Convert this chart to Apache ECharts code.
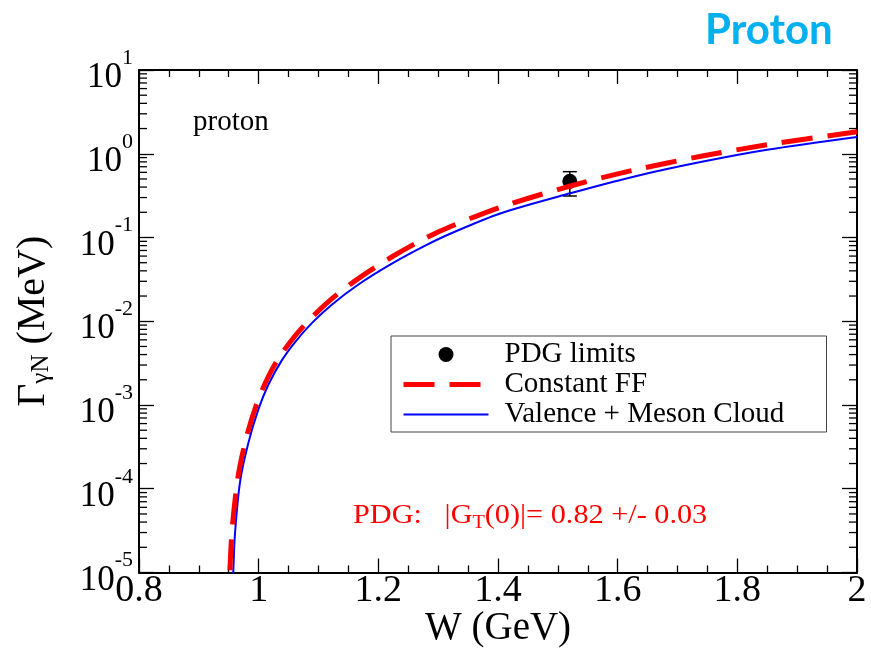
<!DOCTYPE html>
<html><head><meta charset="utf-8">
<script src="https://cdn.jsdelivr.net/npm/echarts@6/dist/echarts.min.js"></script>
<style>html,body{margin:0;padding:0;background:#fff}#c{width:871px;height:651px}</style>
</head><body><div id="c"></div>
<script>
// Constant FF (red dashed)
const ffW   = [0.950, 0.952, 0.956, 0.966, 0.980, 0.997, 1.014, 1.033, 1.061, 1.089, 1.122, 1.167, 1.223, 1.278, 1.320, 1.404, 1.521, 1.627, 1.739, 1.850, 2.000];
const ffVal = [3e-6, 1.07e-5, 3.52e-5, 1.46e-4, 4.24e-4, 1.045e-3, 2.03e-3, 3.59e-3, 6.71e-3, 0.01114, 0.01849, 0.0325, 0.0589, 0.0977, 0.1346, 0.230, 0.412, 0.637, 0.932, 1.28, 1.83];
// Valence + Meson Cloud (blue solid)
const vmcW   = [0.9555, 0.9577, 0.9605, 0.9689, 0.9828, 0.9995, 1.0162, 1.0386, 1.0609, 1.0888, 1.1222, 1.1667, 1.2226, 1.2783, 1.3201, 1.4037, 1.5207, 1.6266, 1.7385, 1.8497, 2.000];
const vmcVal = [3e-6, 1.07e-5, 2.96e-5, 1.205e-4, 3.53e-4, 8.85e-4, 1.746e-3, 3.41e-3, 5.65e-3, 9.50e-3, 0.01578, 0.02748, 0.04875, 0.0800, 0.1109, 0.1936, 0.337, 0.532, 0.795, 1.115, 1.585];
// PDG point
const pdgW = [1.52];
const pdgVal = [0.47];
const pdgLow = [0.313];
const pdgHigh = [0.611];
// axes
const xTicks = [0.8, 1.0, 1.2, 1.4, 1.6, 1.8, 2.0];
const yDecades = [-5, -4, -3, -2, -1, 0];
const yMinorFactors = [2, 3, 4, 5, 6, 7, 8, 9];

const SERIF = 'Liberation Serif';
const minorTickData = [];
yDecades.forEach(d => yMinorFactors.forEach(f => minorTickData.push([0.8, f * Math.pow(10, d)])));

const chart = echarts.init(document.getElementById('c'));
const axisLineStyle = { color: '#000', width: 2 };
const option = {
  backgroundColor: '#fff',
  animation: false,
  grid: { left: 139, right: 14, top: 70, bottom: 78.5, containLabel: false, outerBoundsMode: 'none' },
  xAxis: [{
    type: 'value', position: 'bottom', min: 0.8, max: 2.0, interval: 0.2,
    axisLine: { show: true, lineStyle: axisLineStyle },
    axisTick: { show: true, inside: true, length: 14, lineStyle: { color: '#000', width: 1.3 } },
    minorTick: { show: true, splitNumber: 4, length: 7, lineStyle: { color: '#000', width: 1.3 } },
    splitLine: { show: false },
    axisLabel: { fontFamily: SERIF, fontSize: 38, color: '#000', margin: 1, lineHeight: 36,
      formatter: v => String(Math.round(v * 10) / 10) },
    name: 'W (GeV)', nameLocation: 'middle', nameGap: 36, nameMoveOverlap: false,
    nameTextStyle: { fontFamily: SERIF, fontSize: 39, color: '#000', lineHeight: 40 }
  }, {
    type: 'value', position: 'top', min: 0.8, max: 2.0, interval: 0.2,
    axisLine: { show: true, lineStyle: axisLineStyle },
    axisTick: { show: true, inside: true, length: 14, lineStyle: { color: '#000', width: 1.3 } },
    minorTick: { show: true, splitNumber: 4, length: 7, lineStyle: { color: '#000', width: 1.3 } },
    splitLine: { show: false }, axisLabel: { show: false }
  }],
  yAxis: [{
    type: 'log', logBase: 10, min: 1e-5, max: 10, splitNumber: 6, position: 'left',
    axisLine: { show: true, lineStyle: axisLineStyle },
    axisTick: { show: true, inside: true, length: 15, lineStyle: { color: '#000', width: 1.3 } },
    splitLine: { show: false },
    axisLabel: {
      margin: 6, align: 'right',
      formatter: v => '{b|10}{s|' + Math.round(Math.log10(v)) + '}',
      rich: {
        b: { fontFamily: SERIF, fontSize: 35, color: '#000', lineHeight: 36, verticalAlign: 'middle', padding: [16, 0, 0, 0] },
        s: { fontFamily: SERIF, fontSize: 22, color: '#000', lineHeight: 20, verticalAlign: 'middle', padding: [0, 0, 24, 0] }
      }
    },
    name: '{g|Γ}{sub|γN}{g| (MeV)}', nameLocation: 'middle', nameGap: 86, nameRotate: 90, nameMoveOverlap: false,
    nameTextStyle: {
      rich: {
        g: { fontFamily: SERIF, fontSize: 40, color: '#000', lineHeight: 40, verticalAlign: 'middle' },
        sub: { fontFamily: SERIF, fontSize: 25, color: '#000', lineHeight: 24, verticalAlign: 'middle', padding: [16, 0, 0, 0] }
      }
    }
  }, {
    type: 'log', logBase: 10, min: 1e-5, max: 10, splitNumber: 6, position: 'right',
    axisLine: { show: true, lineStyle: axisLineStyle },
    axisTick: { show: true, inside: true, length: 15, lineStyle: { color: '#000', width: 1.3 } },
    splitLine: { show: false }, axisLabel: { show: false }
  }],
  legend: {
    left: 391, top: 336, orient: 'vertical', align: 'left',
    data: [
      { name: 'PDG limits', icon: 'circle' },
      { name: 'Constant FF', itemStyle: { opacity: 0 }, lineStyle: { width: 5, type: [31, 15], color: '#ff0000' } },
      { name: 'Valence + Meson Cloud', itemStyle: { opacity: 0 }, lineStyle: { width: 2, color: '#0000ff' } }
    ],
    itemWidth: 85, itemHeight: 15, itemGap: 1,
    padding: [4, 0, 3, 10],
    borderColor: '#444', borderWidth: 1, backgroundColor: '#fff',
    selectedMode: false,
    textStyle: { fontFamily: SERIF, fontSize: 29, color: '#000', lineHeight: 28, width: 322, padding: [0, 0, 0, 11] }
  },
  graphic: [
    { type: 'text', left: 705, top: 9, style: { text: 'Proton', font: 'bold 42px Lato', fill: '#00B0F0' } },
    { type: 'text', left: 193, top: 108, style: { text: 'proton', font: '29px "Liberation Serif"', fill: '#000' } },
    { type: 'text', left: 353, top: 500, scaleX: 1.12, style: {
        text: '{a|PDG:   |G}{t|T}{a|(0)|= 0.82 +/- 0.03}', fill: '#f00',
        rich: {
          a: { fontFamily: SERIF, fontSize: 27, color: '#f00', lineHeight: 28, verticalAlign: 'middle' },
          t: { fontFamily: SERIF, fontSize: 18, color: '#f00', lineHeight: 18, verticalAlign: 'middle', padding: [14, 0, 0, 0] }
        } } }
  ],
  series: [
    {
      name: 'y minor ticks', type: 'custom', xAxisIndex: 0, yAxisIndex: 0, silent: true, clip: false,
      data: minorTickData,
      renderItem: (params, api) => {
        const v = api.value(1);
        const pl = api.coord([0.8, v]);
        const pr = api.coord([2.0, v]);
        const st = { stroke: '#000', lineWidth: 1.3 };
        return { type: 'group', children: [
          { type: 'line', shape: { x1: pl[0], y1: pl[1], x2: pl[0] + 8, y2: pl[1] }, style: st },
          { type: 'line', shape: { x1: pr[0] - 8, y1: pr[1], x2: pr[0], y2: pr[1] }, style: st }
        ] };
      }
    },
    {
      name: 'PDG error', type: 'custom', xAxisIndex: 0, yAxisIndex: 0, silent: true, z: 1,
      data: pdgW.map((w, i) => [w, pdgLow[i], pdgHigh[i]]),
      renderItem: (params, api) => {
        const lo = api.coord([api.value(0), api.value(1)]);
        const hi = api.coord([api.value(0), api.value(2)]);
        const st = { stroke: '#000', lineWidth: 1.5 };
        return { type: 'group', children: [
          { type: 'line', shape: { x1: lo[0], y1: lo[1], x2: hi[0], y2: hi[1] }, style: st },
          { type: 'line', shape: { x1: lo[0] - 7, y1: lo[1], x2: lo[0] + 7, y2: lo[1] }, style: st },
          { type: 'line', shape: { x1: hi[0] - 7, y1: hi[1], x2: hi[0] + 7, y2: hi[1] }, style: st }
        ] };
      }
    },
    {
      name: 'PDG limits', type: 'scatter', xAxisIndex: 0, yAxisIndex: 0, z: 1,
      symbol: 'circle', symbolSize: 15, itemStyle: { color: '#000', opacity: 1 },
      data: pdgW.map((w, i) => [w, pdgVal[i]])
    },
    {
      name: 'Valence + Meson Cloud', type: 'line', xAxisIndex: 0, yAxisIndex: 0, z: 3,
      showSymbol: false, symbol: 'none', smooth: 0.3, clip: true,
      itemStyle: { color: '#0000ff' },
      lineStyle: { color: '#0000ff', width: 2 },
      data: vmcW.map((w, i) => [w, vmcVal[i]])
    },
    {
      name: 'Constant FF', type: 'line', xAxisIndex: 0, yAxisIndex: 0, z: 4,
      showSymbol: false, symbol: 'none', smooth: 0.3, clip: true,
      itemStyle: { color: '#ff0000' },
      lineStyle: { color: '#ff0000', width: 5, type: [31, 15], cap: 'butt' },
      data: ffW.map((w, i) => [w, ffVal[i]])
    }
  ]
};
chart.setOption(option);
</script></body></html>
